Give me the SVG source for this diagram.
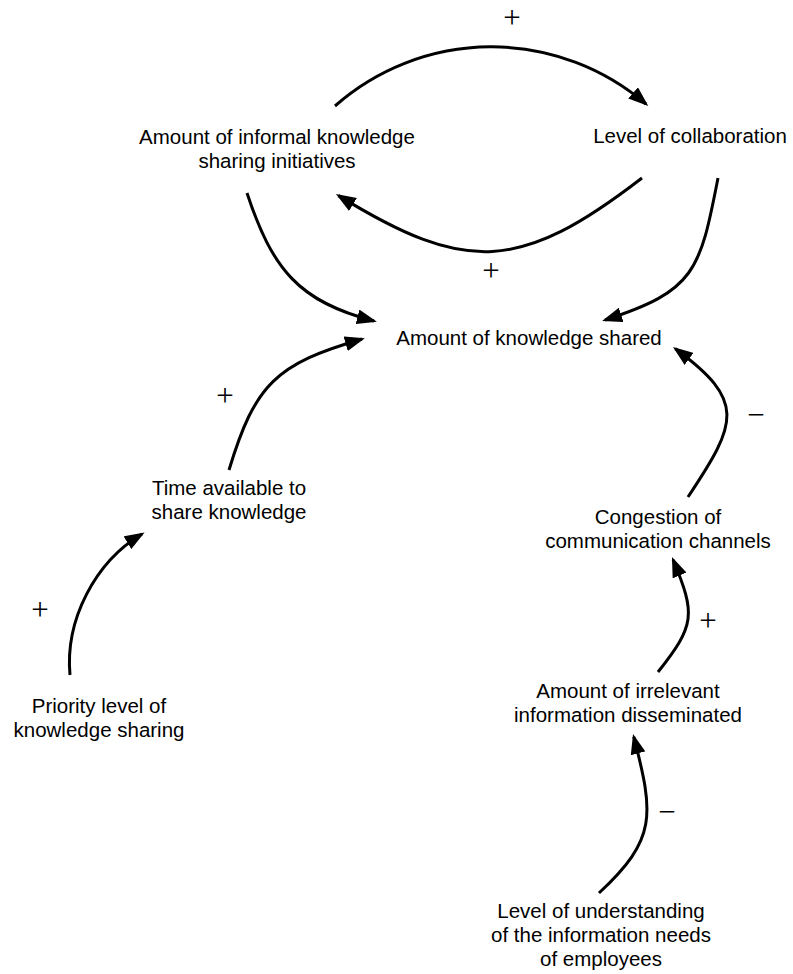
<svg xmlns="http://www.w3.org/2000/svg" width="793" height="974" viewBox="0 0 793 974">
  <style>
    .lbl { font-family: "Liberation Sans", Arial, sans-serif; font-size: 20.5px; fill: #000; text-anchor: middle; }
    .sign { font-family: "Liberation Serif", "Times New Roman", serif; font-size: 31px; fill: #000; text-anchor: middle; }
    .link { fill: none; stroke: #000; stroke-width: 3; marker-end: url(#arrow); }
  </style>
  <defs>
    <marker id="arrow" markerUnits="userSpaceOnUse" viewBox="0 0 20 15" markerWidth="20" markerHeight="15" refX="17" refY="7.5" orient="auto">
      <path d="M0,0 L20,7.5 L0,15 z" fill="#000"/>
    </marker>
  </defs>
  <rect width="793" height="974" fill="#fff"/>

  <!-- causal links -->
  <g id="links">
    <path class="link" d="M335,106 A237,237 0 0 1 646,104"/>
    <path class="link" d="M642,178 C520,272 466,274 338.5,195.6"/>
    <path class="link" d="M247,193 C272,269 299,302 374,321"/>
    <path class="link" d="M718,178 C700,271 695,291 605,320"/>
    <path class="link" d="M229,470 C255,384 276,364 362,339"/>
    <path class="link" d="M70,675 C65,620 95,562 142,534"/>
    <path class="link" d="M688,497 C738,422 746,401 675.4,348.8"/>
    <path class="link" d="M658,672 C695,625 696,615 673.1,559.8"/>
    <path class="link" d="M599,893 C657,839 654,815 633.8,736.9"/>
  </g>

  <!-- link polarities -->
  <g id="polarities">
    <text class="sign" x="512" y="28">+</text>
    <text class="sign" x="491" y="281">+</text>
    <text class="sign" x="225" y="406">+</text>
    <text class="sign" x="40" y="620">+</text>
    <text class="sign" x="708" y="631">+</text>
    <text class="sign" x="756" y="425">−</text>
    <text class="sign" x="667" y="822">−</text>
  </g>

  <g id="informal-sharing">
    <text class="lbl" x="277" y="144">Amount of informal knowledge</text>
    <text class="lbl" x="277" y="168">sharing initiatives</text>
  </g>
  <g id="collaboration">
    <text class="lbl" x="690" y="143">Level of collaboration</text>
  </g>
  <g id="knowledge-shared">
    <text class="lbl" x="529" y="345">Amount of knowledge shared</text>
  </g>
  <g id="time-available">
    <text class="lbl" x="229" y="495">Time available to</text>
    <text class="lbl" x="229" y="519">share knowledge</text>
  </g>
  <g id="priority-level">
    <text class="lbl" x="99" y="713">Priority level of</text>
    <text class="lbl" x="99" y="737">knowledge sharing</text>
  </g>
  <g id="congestion">
    <text class="lbl" x="658" y="524">Congestion of</text>
    <text class="lbl" x="658" y="548">communication channels</text>
  </g>
  <g id="irrelevant-info">
    <text class="lbl" x="628" y="698">Amount of irrelevant</text>
    <text class="lbl" x="628" y="722">information disseminated</text>
  </g>
  <g id="understanding">
    <text class="lbl" x="601" y="918">Level of understanding</text>
    <text class="lbl" x="601" y="942">of the information needs</text>
    <text class="lbl" x="601" y="966">of employees</text>
  </g>
</svg>
